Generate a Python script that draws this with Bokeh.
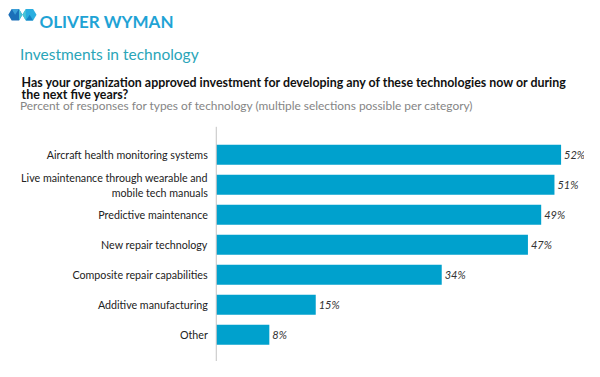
from bokeh.plotting import figure
from bokeh.models import Range1d, Label, ColumnDataSource
from bokeh.core.properties import value
from bokeh.embed import file_html
from bokeh.resources import INLINE

categories = [
    "Aircraft health monitoring systems",
    "Live maintenance through wearable and\nmobile tech manuals",
    "Predictive maintenance",
    "New repair technology",
    "Composite repair capabilities",
    "Additive manufacturing",
    "Other",
]
values = [52, 51, 49, 47, 34, 15, 8]
value_labels = ["52%", "51%", "49%", "47%", "34%", "15%", "8%"]

W, H = 584, 361
SX, SY = W / 600, H / 377
X0, X1 = -32.54, 55.53
Y_TOP, Y_BOT = -5.14, 6.893

FONT = "Lato"
BAR = "#00a1cd"

p = figure(width=W, height=H, output_backend="svg", toolbar_location=None,
           x_range=Range1d(X0, X1), y_range=Range1d(Y_BOT, Y_TOP),
           min_border=0, outline_line_color=None)
p.axis.visible = False
p.grid.visible = False
p.background_fill_color = "white"
p.border_fill_color = "white"


def fx(px):
    return X0 + px * SX / W * (X1 - X0)


def fy(py):
    return Y_TOP + py * SY / H * (Y_BOT - Y_TOP)


pos = list(range(len(categories)))
src = ColumnDataSource(dict(y=pos, v=values, cat=categories, lab=value_labels,
                            lx=[v + 0.45 for v in values]))

p.hbar(y="y", left=0, right="v", height=0.67, source=src,
       fill_color=BAR, line_color=None)

# vertical axis line
p.segment(x0=[0], x1=[0], y0=[-0.93], y1=[Y_BOT + 1], line_color="#c4c4c4", line_width=1)

p.text(x=-1.28, y="y", text="cat", source=src, text_align="right", text_baseline="middle",
       text_font=value(FONT), text_font_size="10.7px", text_color="#222222",
       text_line_height=1.15)
p.text(x="lx", y="y", text="lab", source=src, text_align="left", text_baseline="middle",
       text_font=value(FONT), text_font_size="11px", text_font_style="italic",
       text_color="#333333")

# logo icon (decorative), reference pixel coordinates
ox, oy = 8, 9
left_hex = [(0, 6), (3.5, 0), (11, 0), (14.5, 6), (11, 12), (3.5, 12)]
right_hex = [(14.5, 6), (18, 0), (25.5, 0), (29, 6), (25.5, 12), (18, 12)]
mid = [(11, 0), (14.5, 6), (18, 0), (18, 12), (14.5, 6), (11, 12)]
tri1 = [(3.5, 0), (11, 0), (7, 6)]
tri2 = [(18, 12), (25.5, 12), (22, 6)]
shapes = [(left_hex, "#1b6fb8"), (right_hex, "#2aaee0"), (mid, "#49c3d6"),
          (tri1, "#3a9fd8"), (tri2, "#1683c4")]
for pts, col in shapes:
    p.patch(x=[fx(ox + a) for a, b in pts], y=[fy(oy + b) for a, b in pts],
            fill_color=col, line_color=None)


def add_label(text, x, y_base, size, color, style="normal", font=FONT):
    p.add_layout(Label(x=x, y=H - y_base, x_units="screen", y_units="screen", text=text,
                       text_font=font, text_font_size=size, text_color=color,
                       text_font_style=style, text_baseline="alphabetic", text_align="left"))


add_label("OLIVER WYMAN", 39, 21.1, "17px", "#1fa3d5", "bold")
add_label("Investments in technology", 19.5, 53.6, "15.5px", "#2aa5b8")
add_label("Has your organization approved investment for developing any of these technologies now or during",
          21.1, 82.4, "12.4px", "#111111", "bold")
add_label("the next five years?", 21.1, 94.0, "12.4px", "#111111", "bold")
add_label("Percent of responses for types of technology (multiple selections possible per category)",
          19.5, 105.2, "11.9px", "#858585")

open("out.html", "w").write(file_html(p, INLINE))
